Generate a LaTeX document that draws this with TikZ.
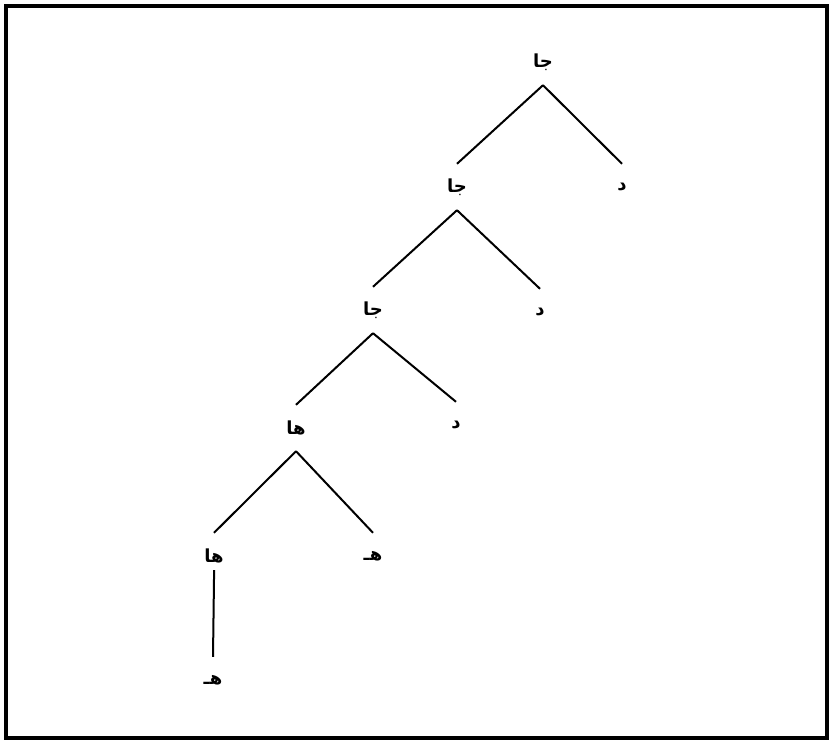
\documentclass[tikz,border=0pt]{standalone}
\usepackage{fontspec}
\newfontfamily\arabicfont[Script=Arabic]{DejaVu Sans}
\TeXXeTstate=1
\usetikzlibrary{positioning}

\begin{document}
\begin{tikzpicture}[x=1pt, y=-1pt,
  lbl/.style={minimum height=46pt, inner sep=0pt, font=\arabicfont\bfseries\fontsize{18}{21}\selectfont},
  br/.style={line width=2pt},
]
  \useasboundingbox (0,0) rectangle (832,744);
  \draw[line width=3.8pt] (6,6) rectangle (827,738);

  \node[lbl] (ja1) at (543,62) {\beginR جا\endR};
  \node[lbl] (ja2) at (457,187) {\beginR جا\endR};
  \node[lbl] (dal1) at (622,187) {\beginR د\endR};
  \node[lbl] (ja3) at (373,310) {\beginR جا\endR};
  \node[lbl] (dal2) at (540,312) {\beginR د\endR};
  \node[lbl] (ha1) at (296,428) {\beginR ها\endR};
  \node[lbl] (dal3) at (456,425) {\beginR د\endR};
  \node[lbl] (ha2) at (214,556) {\beginR ها\endR};
  \node[lbl] (he1) at (373,556) {\beginR هـ\endR};
  \node[lbl] (he2) at (213,680) {\beginR هـ\endR};

  \draw[br] (ja1.south) -- (ja2.north);
  \draw[br] (ja1.south) -- (dal1.north);
  \draw[br] (ja2.south) -- (ja3.north);
  \draw[br] (ja2.south) -- (dal2.north);
  \draw[br] (ja3.south) -- (ha1.north);
  \draw[br] (ja3.south) -- (dal3.north);
  \draw[br] (ha1.south) -- (ha2.north);
  \draw[br] (ha1.south) -- (he1.north);
  \draw[br, shorten <=-9pt] (ha2.south) -- (he2.north);
\end{tikzpicture}
\end{document}
